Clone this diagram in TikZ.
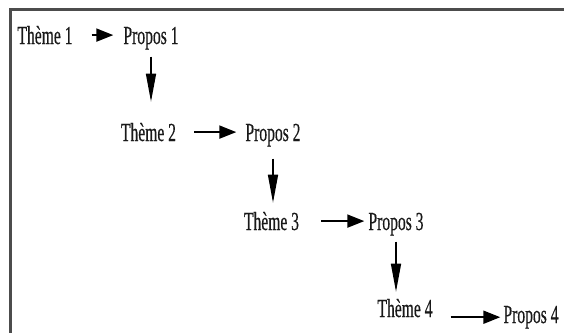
\documentclass[tikz,border=0pt]{standalone}
\usepackage{fontspec}
\setmainfont{Liberation Serif}
\newfontfamily\lblfont[FakeBold=0.5]{Liberation Serif}
\usepackage{graphicx}
\usetikzlibrary{arrows.meta}
\tikzset{
 lbl/.style={inner sep=0pt, anchor=base, font=\lblfont\fontsize{26}{26}\selectfont, text=black!90},
 harrow/.style={line width=2pt, -{Triangle[length=17pt,width=13pt]}},
 varrow/.style={line width=1.4pt, -{Triangle[length=28pt,width=10pt]}},
 frame/.style={line width=2.2pt, draw=black!70}
}
\newcommand{\cond}[1]{\scalebox{0.6}[1]{#1}}
\begin{document}
\begin{tikzpicture}[x=1pt,y=-1pt]
\useasboundingbox (0,0) rectangle (564,332);
\draw[frame] (10.5,334) -- (10.5,9.5) -- (566,9.5);
\node[lbl] (t1) at (45,44) {\cond{Thème 1}};
\node[lbl] (p1) at (151,44) {\cond{Propos 1}};
\node[lbl] (t2) at (148.5,141) {\cond{Thème 2}};
\node[lbl] (p2) at (273,141) {\cond{Propos 2}};
\node[lbl] (t3) at (271.5,230) {\cond{Thème 3}};
\node[lbl] (p3) at (396,230) {\cond{Propos 3}};
\node[lbl] (t4) at (405,317) {\cond{Thème 4}};
\node[lbl] (p4) at (531,323) {\cond{Propos 4}};
\draw[harrow, shorten <=19pt, shorten >=10pt] (t1.east) -- (t1.east -| p1.west);
\draw[harrow, shorten <=18pt, shorten >=9pt] (t2.east) -- (t2.east -| p2.west);
\draw[harrow, shorten <=22pt, shorten >=4pt] (t3.east) -- (t3.east -| p3.west);
\draw[harrow, shorten <=18pt, shorten >=3pt] (p4.west -| t4.east) -- (p4.west);
\draw[varrow, shorten <=7pt, shorten >=21pt] (p1.south) -- (p1.south |- t2.north);
\draw[varrow, shorten <=12pt, shorten >=9pt] (p2.south) -- (p2.south |- t3.north);
\draw[varrow, shorten <=6pt, shorten >=7pt] (p3.south) -- (p3.south |- t4.north);
\end{tikzpicture}
\end{document}
